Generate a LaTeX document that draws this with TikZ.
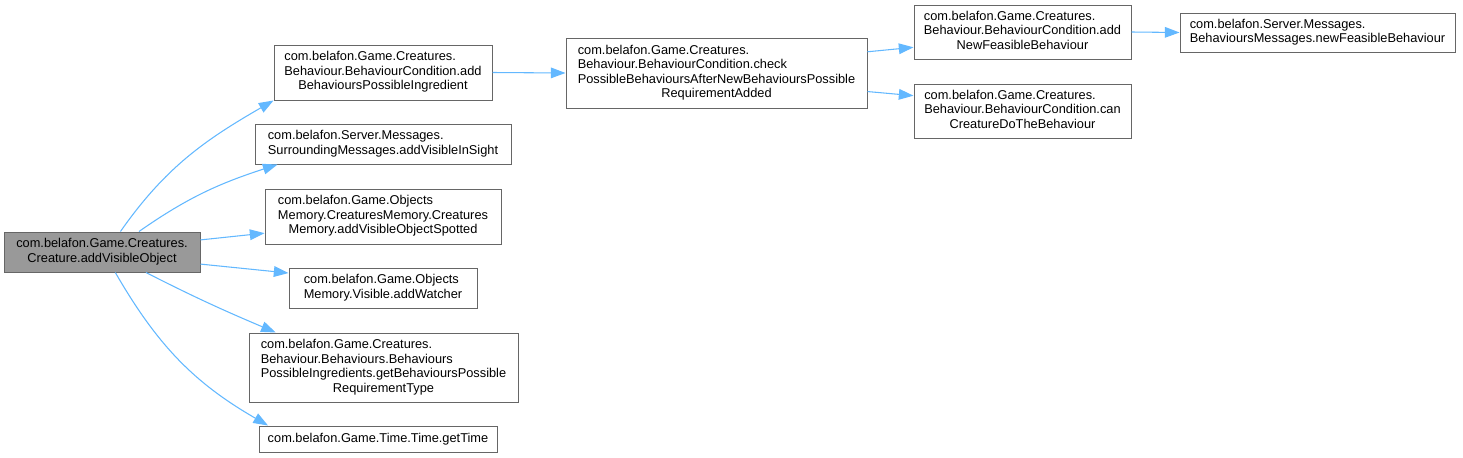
\documentclass[tikz,border=0pt]{standalone}
\usepackage{fontspec}
\setmainfont{Liberation Sans}
\usetikzlibrary{arrows.meta}

\definecolor{edgeblue}{HTML}{63B8FF}
\definecolor{boxgrey}{HTML}{666666}
\definecolor{mainfill}{HTML}{999999}

% lines of a label: left aligned, the last one centred
\newcommand{\fnlines}[2]{\begin{tabular}{@{}l@{}}#1\\\multicolumn{1}{@{}c@{}}{#2}\end{tabular}}

\tikzset{
  fn/.style={draw=boxgrey, fill=white, line width=0.75pt, inner sep=0pt,
    font=\fontsize{9.6}{10.9}\selectfont},
  call/.style={draw=edgeblue, line width=0.8pt, -{Triangle[length=11pt, width=8pt]}}
}

\begin{document}
\begin{tikzpicture}[x=0.75pt, y=0.75pt]
    \useasboundingbox (0,0) rectangle (1463,-457);

    % The function whose calls are shown
    \node[fn, fill=mainfill, minimum width=147pt, minimum height=30pt] (creature) at (102,-252)
        {\fnlines{com.belafon.Game.Creatures.}{Creature.addVisibleObject}};

    % Functions called directly
    \node[fn, minimum width=163.5pt, minimum height=41.25pt] (addingr) at (383,-72.5)
        {\fnlines{com.belafon.Game.Creatures.\\Behaviour.BehaviourCondition.add}{BehavioursPossibleIngredient}};
    \node[fn, minimum width=192pt, minimum height=30pt] (addsight) at (383,-144)
        {\fnlines{com.belafon.Server.Messages.}{SurroundingMessages.addVisibleInSight}};
    \node[fn, minimum width=177pt, minimum height=41.25pt] (spotted) at (383,-216.5)
        {\fnlines{com.belafon.Game.Objects\\Memory.CreaturesMemory.Creatures}{Memory.addVisibleObjectSpotted}};
    \node[fn, minimum width=141pt, minimum height=30pt] (watcher) at (383,-288)
        {\fnlines{com.belafon.Game.Objects}{Memory.Visible.addWatcher}};
    \node[fn, minimum width=201.75pt, minimum height=51.75pt] (reqtype) at (383.5,-367.5)
        {\fnlines{com.belafon.Game.Creatures.\\Behaviour.Behaviours.Behaviours\\PossibleIngredients.getBehavioursPossible}{RequirementType}};
    \node[fn, minimum width=178.5pt, minimum height=19.5pt] (gettime) at (378,-439)
        {com.belafon.Game.Time.Time.getTime};

    % Second level
    \node[fn, minimum width=225.75pt, minimum height=52.5pt] (checkposs) at (716.5,-73)
        {\fnlines{com.belafon.Game.Creatures.\\Behaviour.BehaviourCondition.check\\PossibleBehavioursAfterNewBehavioursPossible}{RequirementAdded}};

    % Third and fourth level
    \node[fn, minimum width=162.75pt, minimum height=40.5pt] (addfeas) at (1022.5,-32)
        {\fnlines{com.belafon.Game.Creatures.\\Behaviour.BehaviourCondition.add}{NewFeasibleBehaviour}};
    \node[fn, minimum width=162.75pt, minimum height=40.5pt] (cando) at (1022.5,-111)
        {\fnlines{com.belafon.Game.Creatures.\\Behaviour.BehaviourCondition.can}{CreatureDoTheBehaviour}};
    \node[fn, minimum width=206.25pt, minimum height=29.25pt] (newfeas) at (1317.5,-32.5)
        {\fnlines{com.belafon.Server.Messages.}{BehavioursMessages.newFeasibleBehaviour}};

    % Calls from addVisibleObject
    \draw[call] (creature.48) to[out=55, in=-150] (addingr.south west);
    \draw[call] (creature.29) to[out=35, in=-162] (addsight.-169);
    \draw[call] (creature.7) -- (spotted.-172);
    \draw[call] (creature.-7) -- (watcher.171);
    \draw[call] (creature.-25) to[out=-27, in=157] (reqtype.162);
    \draw[call] (creature.-57) to[out=-60, in=150] (gettime.173);

    % Further calls
    \draw[call] (addingr.east) -- (checkposs.west);
    \draw[call] (checkposs.8) -- (addfeas.-172);
    \draw[call] (checkposs.-7) -- (cando.172);
    \draw[call] (addfeas.east) -- (newfeas.west);
\end{tikzpicture}
\end{document}
